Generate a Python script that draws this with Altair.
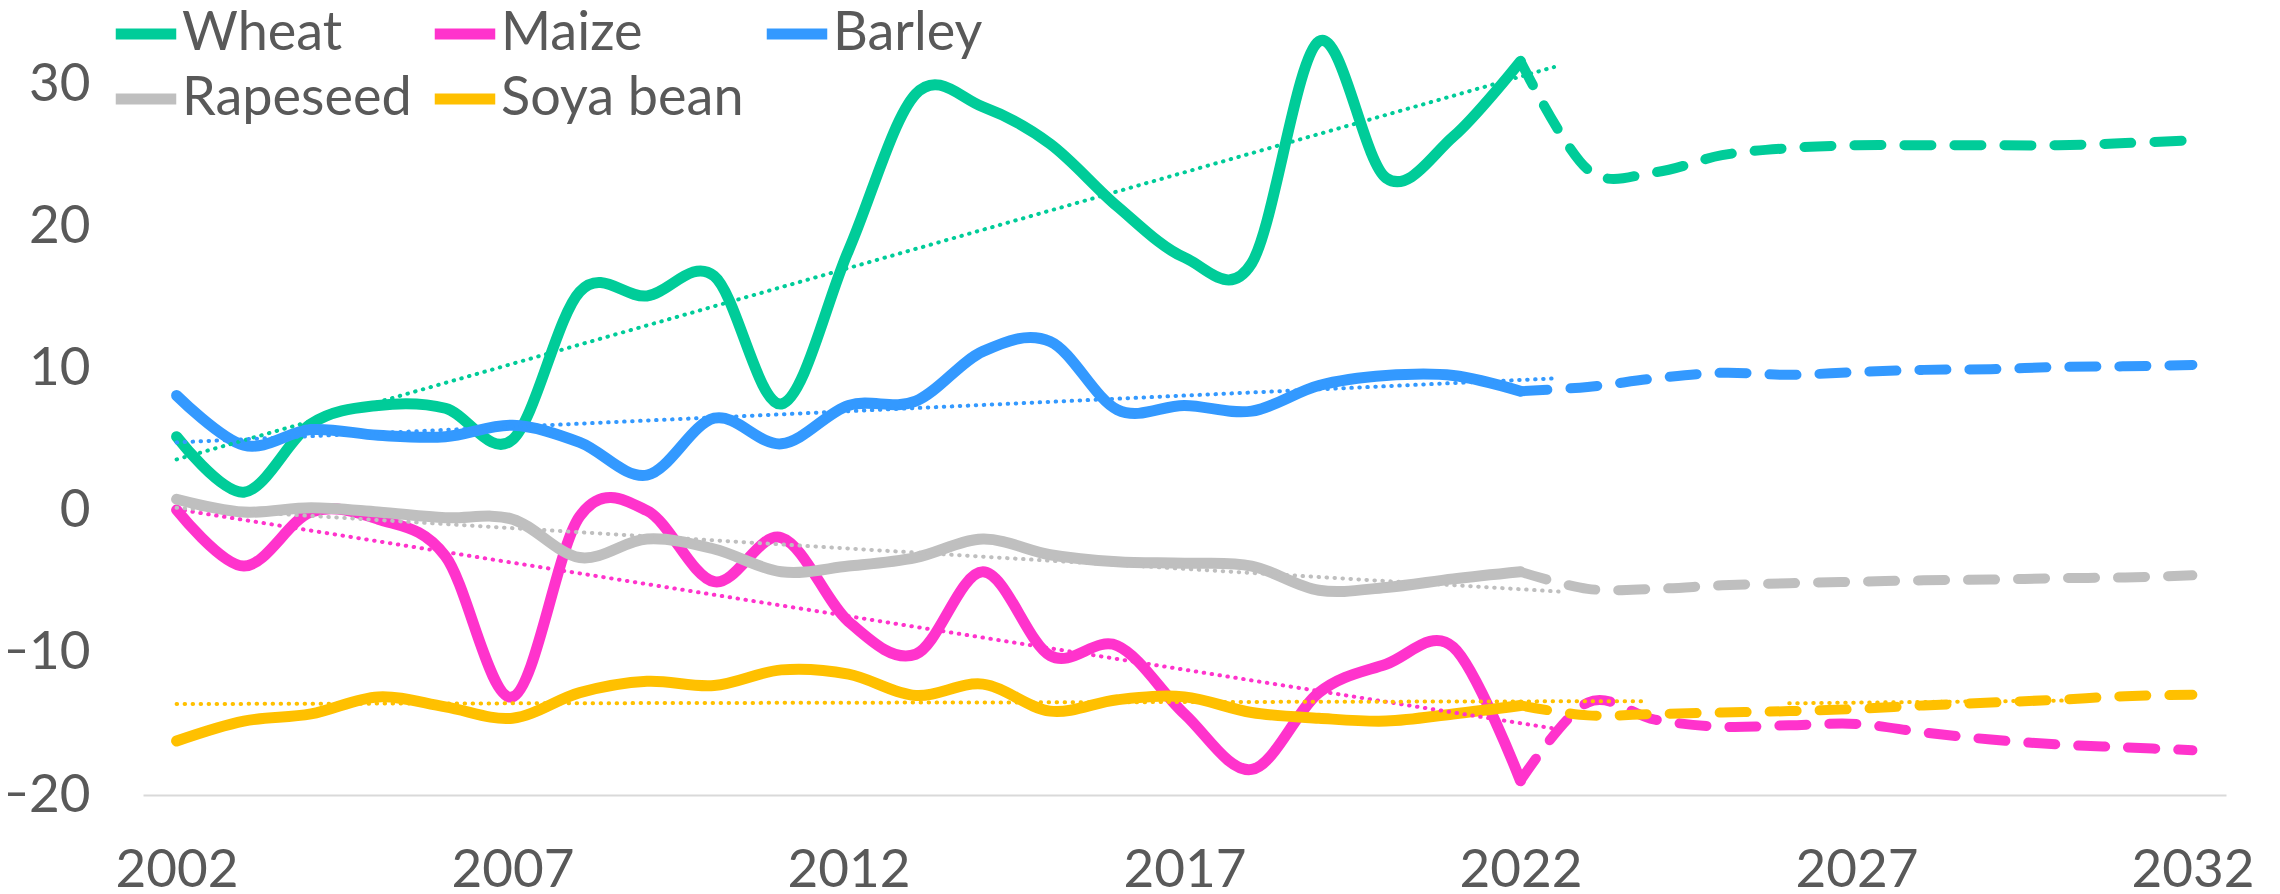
import altair as alt
import pandas as pd

# ---------------- data ----------------
crops = ["Wheat", "Maize", "Barley", "Rapeseed", "Soya bean"]
colors = ["#00CC99", "#FF33CC", "#3399FF", "#BFBFBF", "#FFC000"]

hist_years = list(range(2002, 2023))
hist_wheat = [5.2, 1.3, 6.1, 7.4, 7.2, 5.0, 15.4, 15.1, 16.5, 7.5, 18.3,
              29.3, 28.4, 25.8, 21.4, 17.8, 17.4, 33.0, 23.4, 26.3, 31.6]
hist_maize = [0.05, -3.9, -0.1, -0.6, -3.2, -13.1, -0.4, 0.0, -5.0, -1.9, -7.8,
              -10.1, -4.3, -10.2, -9.5, -14.3, -18.2, -12.8, -10.8, -9.6, -19.0]
hist_barley = [8.1, 4.6, 5.7, 5.3, 5.2, 6.0, 4.8, 2.5, 6.5, 4.7, 7.4,
               7.7, 11.2, 11.9, 7.1, 7.4, 7.0, 8.8, 9.5, 9.5, 8.4]
hist_rapeseed = [0.8, -0.1, 0.2, -0.1, -0.5, -0.6, -3.3, -2.0, -2.7, -4.3, -3.9,
                 -3.3, -2.0, -3.1, -3.6, -3.7, -3.9, -5.6, -5.4, -4.8, -4.3]
hist_soya = [-16.2, -14.8, -14.3, -13.1, -13.8, -14.6, -12.8, -12.0, -12.3, -11.2, -11.5,
             -13.0, -12.2, -14.1, -13.3, -13.1, -14.2, -14.6, -14.8, -14.3, -13.7]

proj_years = list(range(2022, 2033))
proj_wheat = [31.6, 24.0, 23.8, 25.0, 25.5, 25.7, 25.7, 25.7, 25.7, 25.85, 26.05]
proj_maize = [-19.0, -13.5, -14.7, -15.2, -15.1, -15.0, -15.6, -16.1, -16.45, -16.65, -16.85]
proj_barley = [8.4, 8.7, 9.3, 9.7, 9.55, 9.75, 9.9, 9.95, 10.1, 10.15, 10.25]
proj_rapeseed = [-4.3, -5.5, -5.5, -5.25, -5.1, -5.0, -4.9, -4.85, -4.75, -4.7, -4.55]
proj_soya = [-13.7, -14.4, -14.3, -14.2, -14.1, -13.95, -13.7, -13.5, -13.3, -13.05, -12.95]

# linear trend lines (start / end)
trend_x0 = [2002, 2002, 2002, 2002, 2002]
trend_x1 = [2022.5, 2022.6, 2022.5, 2022.6, 2023.9]
trend_y0 = [3.6, 0.1, 4.8, 0.2, -13.6]
trend_y1 = [31.2, -15.4, 9.3, -5.7, -13.4]
# short visible piece of the projected soya bean trend
soya_proj_trend_x = [2026.0, 2030.3]
soya_proj_trend_y = [-13.55, -13.35]

x_ticks = [2002, 2007, 2012, 2017, 2022, 2027, 2032]
y_ticks = [-20, -10, 0, 10, 20, 30]

# ---------------- tables ----------------
hist_vals = [hist_wheat, hist_maize, hist_barley, hist_rapeseed, hist_soya]
proj_vals = [proj_wheat, proj_maize, proj_barley, proj_rapeseed, proj_soya]

FONT = "Lato"
TXT = "#595959"

x_enc = alt.X(
    "year:Q",
    scale=alt.Scale(domain=[2001.5, 2032.5], nice=False, zero=False),
    axis=alt.Axis(values=x_ticks, format="d", title=None, grid=False, ticks=False,
                  domainColor="#D9D9D9", domainWidth=2, labelFont=FONT,
                  labelFontSize=53, labelColor=TXT, labelFlush=False,
                  labelOverlap=False, labelPadding=49, labelLimit=400),
)
y_enc = alt.Y(
    "value:Q",
    scale=alt.Scale(domain=[-20, 35], nice=False, zero=False),
    axis=alt.Axis(values=y_ticks, title=None, grid=False, ticks=False, tickSize=0,
                  domain=False, labelFont=FONT, labelFontSize=53, labelColor=TXT,
                  labelPadding=53, labelLimit=400),
)

legend = alt.Legend(
    title=None, orient="none", legendX=-33, legendY=-15, columns=3,
    direction="horizontal", symbolType="stroke", symbolSize=3660,
    symbolStrokeWidth=11, labelFont=FONT, labelFontSize=54, labelColor=TXT,
    labelLimit=600, columnPadding=0, rowPadding=2, gridAlign="each",
    labelOffset=0,
)
color_scale = alt.Scale(domain=crops, range=colors)

layers = []
for c, vals in zip(crops, hist_vals):
    df = pd.DataFrame({"year": hist_years, "value": vals, "crop": c})
    layers.append(
        alt.Chart(df).mark_line(interpolate="cardinal", strokeWidth=11, strokeCap="round",
                                strokeJoin="round")
        .encode(x=x_enc, y=y_enc,
                color=alt.Color("crop:N", scale=color_scale, legend=legend))
    )
for c, col, vals in zip(crops, colors, proj_vals):
    df = pd.DataFrame({"year": proj_years, "value": vals, "crop": c})
    layers.append(
        alt.Chart(df).mark_line(interpolate="cardinal", strokeWidth=10, strokeCap="round",
                                strokeDash=[27, 23])
        .encode(x=x_enc, y=y_enc, color=alt.value(col))
    )
for i, (c, col) in enumerate(zip(crops, colors)):
    df = pd.DataFrame({"year": [trend_x0[i], trend_x1[i]],
                       "value": [trend_y0[i], trend_y1[i]], "crop": c})
    layers.append(
        alt.Chart(df).mark_line(strokeWidth=4, strokeCap="round", strokeDash=[0.5, 7.5])
        .encode(x=x_enc, y=y_enc, color=alt.value(col))
    )
df = pd.DataFrame({"year": soya_proj_trend_x, "value": soya_proj_trend_y, "crop": "Soya bean"})
layers.append(
    alt.Chart(df).mark_line(strokeWidth=4, strokeCap="round", strokeDash=[0.5, 7.5])
    .encode(x=x_enc, y=y_enc, color=alt.value(colors[4]))
)

chart = (
    alt.layer(*layers)
    .properties(width=2083, height=782,
                autosize=alt.AutoSizeParams(type="none"),
                padding={"left": 135, "top": 5, "right": 40, "bottom": 99},
                background="white")
    .configure_view(stroke=None)
)

chart.save("out.html", embed_options={"renderer": "svg", "actions": False})
